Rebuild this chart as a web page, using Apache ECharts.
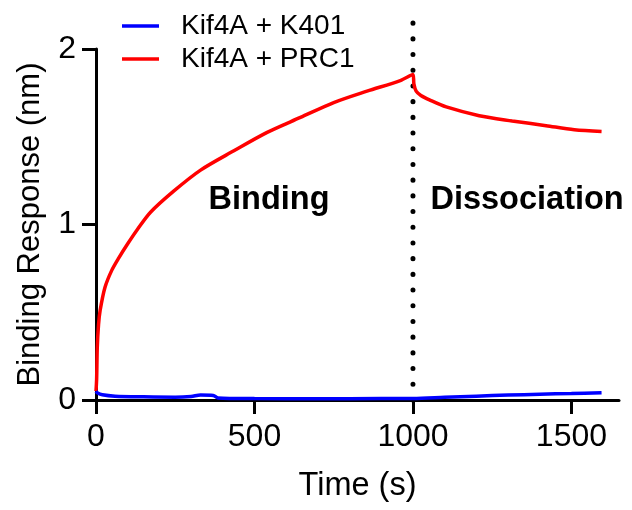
<!DOCTYPE html>
<html>
<head>
<meta charset="utf-8">
<script src="https://cdn.jsdelivr.net/npm/echarts@6/dist/echarts.min.js"></script>
<style>
  html, body { margin: 0; padding: 0; background: #fff; }
  #chart { width: 632px; height: 510px; }
</style>
</head>
<body>
<div id="chart"></div>
<script>
const FONT = "'Liberation Sans', Arial, sans-serif";

// time (s) and response (nm)
const prc1Time = [0, 2, 4, 8, 13, 28, 50, 72, 100, 130, 172, 245, 330, 435, 540, 645, 750, 855, 960, 1000,
  1003, 1010, 1025, 1052, 1105, 1209, 1313, 1420, 1509, 1595];
const prc1Resp = [0.05, 0.12, 0.3, 0.43, 0.51, 0.64, 0.74, 0.81, 0.89, 0.97, 1.07, 1.19, 1.31, 1.42, 1.525, 1.61, 1.695, 1.76, 1.82, 1.855,
  1.8, 1.76, 1.735, 1.71, 1.67, 1.62, 1.59, 1.563, 1.54, 1.53];

const k401Time = [0, 5, 20, 60, 150, 250, 300, 330, 370, 385, 500, 700, 900, 1000, 1100, 1200, 1300, 1400, 1500, 1595];
const k401Resp = [0.05, 0.04, 0.03, 0.022, 0.018, 0.016, 0.02, 0.028, 0.026, 0.012, 0.008, 0.007, 0.008, 0.008, 0.015, 0.022, 0.028, 0.033, 0.037, 0.042];

const switchTime = 1000;
const switchLine = [0, 2.15];

const xTicks = [0, 500, 1000, 1500];
const annotations = [
  { text: "Binding", x: 546, y: 1.14 },
  { text: "Dissociation", x: 1360, y: 1.14 },
];

const chart = echarts.init(document.getElementById("chart"), null, { renderer: "canvas" });

const pairs = (xs, ys) => xs.map((x, i) => [x, ys[i]]);

const option = {
  animation: false,
  textStyle: { fontFamily: FONT },
  legend: {
    orient: "vertical",
    left: 117,
    top: 7,
    icon: "rect",
    itemWidth: 37,
    itemHeight: 3.5,
    itemGap: 5,
    data: ["Kif4A + K401", "Kif4A + PRC1"],
    formatter: (name) => `{g|}{n|${name}}`,
    textStyle: {
      rich: {
        g: { width: 17 },
        n: { fontSize: 28, fontFamily: FONT, color: "#000", lineHeight: 28 },
      },
    },
  },
  grid: { left: 96, right: 13, top: 49, bottom: 110, containLabel: false },
  xAxis: {
    type: "value",
    min: 0,
    max: 1650,
    interval: 500,
    name: "Time (s)",
    nameLocation: "middle",
    nameGap: 70,
    nameTextStyle: { fontSize: 32.5, color: "#000", fontFamily: FONT },
    axisLine: { lineStyle: { color: "#000", width: 3 } },
    axisTick: { length: 14, lineStyle: { width: 3, color: "#000" }, customValues: xTicks },
    axisLabel: {
      fontSize: 32, color: "#000", margin: 21, customValues: xTicks, fontFamily: FONT,
      formatter: (v) => String(v),
    },
    splitLine: { show: false },
  },
  yAxis: {
    type: "value",
    min: 0,
    max: 2,
    interval: 1,
    name: "Binding Response (nm)",
    nameLocation: "middle",
    nameGap: 50,
    nameTextStyle: { fontSize: 31, color: "#000", fontFamily: FONT },
    axisLine: { show: true, lineStyle: { color: "#000", width: 3 } },
    axisTick: { show: true, length: 14, lineStyle: { width: 3, color: "#000" } },
    axisLabel: { fontSize: 32, color: "#000", margin: 20, fontFamily: FONT },
    splitLine: { show: false },
  },
  series: [
    {
      name: "Kif4A + PRC1",
      type: "line",
      data: pairs(prc1Time, prc1Resp),
      showSymbol: false,
      symbol: "none",
      smooth: 0.3,
      clip: false,
      lineStyle: { color: "#ff0000", width: 3.5 },
      itemStyle: { color: "#ff0000" },
      z: 3,
    },
    {
      name: "Kif4A + K401",
      type: "line",
      data: pairs(k401Time, k401Resp),
      showSymbol: false,
      symbol: "none",
      smooth: 0.3,
      clip: false,
      lineStyle: { color: "#0000ff", width: 3.5 },
      itemStyle: { color: "#0000ff" },
      z: 4,
    },
    {
      name: "switch",
      type: "line",
      data: switchLine.map((v) => [switchTime, v]),
      showSymbol: false,
      symbol: "none",
      clip: false,
      silent: true,
      lineStyle: { color: "#000", width: 5, type: [0.1, 15.6], cap: "round" },
      z: 2,
    },
    {
      name: "labels",
      type: "scatter",
      symbolSize: 0,
      silent: true,
      itemStyle: { opacity: 1 },
      data: annotations.map((a) => ({ value: [a.x, a.y], label: { formatter: a.text } })),
      label: {
        show: true,
        position: "inside",
        fontSize: 32.5,
        fontWeight: "bold",
        color: "#000",
        fontFamily: FONT,
      },
    },
  ],
};

chart.setOption(option);
</script>
</body>
</html>
